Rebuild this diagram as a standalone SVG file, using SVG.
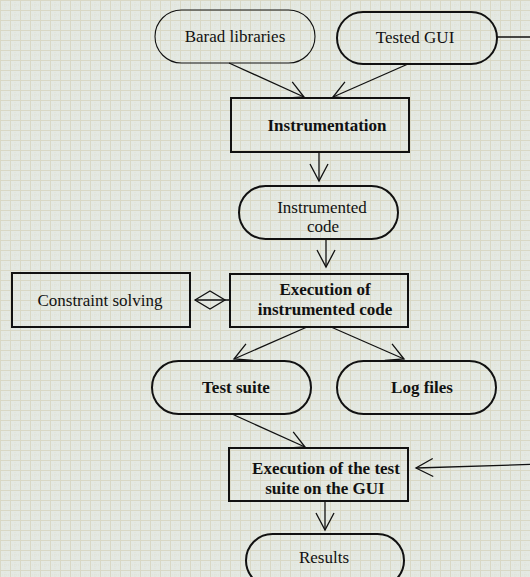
<svg xmlns="http://www.w3.org/2000/svg" width="530" height="577" viewBox="0 0 530 577">
<defs>
<pattern id="grid" width="10" height="10" patternUnits="userSpaceOnUse">
<rect width="10" height="10" fill="#e4e9e3"/>
<path d="M5 0V10M0 5H10" stroke="#e0e2d6" stroke-width="1" stroke-dasharray="1,1"/>
<path d="M0.5 0V10M0 0.5H10" stroke="#d9d8c5" stroke-width="1"/>
</pattern>
<marker id="arr" markerUnits="userSpaceOnUse" markerWidth="40" markerHeight="40" viewBox="-20 -20 40 40" refX="0" refY="0" orient="auto">
<path d="M-17,-9 L0,0 L-17,9" fill="none" stroke="#111" stroke-width="1.3"/>
</marker>
<style>
.thin{fill:none;stroke:#111;stroke-width:1.1}
.thick{fill:none;stroke:#111;stroke-width:2}
.t{font-family:"Liberation Serif","Times New Roman",serif;font-size:17px;fill:#111;text-anchor:middle}
.b{font-weight:bold}
.c{fill:none;stroke:#111;stroke-width:1.3}
</style>
</defs>
<rect width="530" height="577" fill="url(#grid)"/>

<g id="barad">
<rect class="thin" x="155" y="10" width="160" height="53" rx="26.5"/>
<text class="t" x="235" y="42">Barad libraries</text>
</g>
<g id="tested-gui">
<rect class="thick" x="337" y="12" width="160" height="52" rx="26"/>
<text class="t" x="415" y="43">Tested GUI</text>
</g>
<g id="instrumentation">
<rect class="thick" x="231" y="98" width="178" height="54"/>
<text class="t b" x="327" y="131">Instrumentation</text>
</g>
<g id="instrumented-code">
<rect class="thick" x="239" y="186" width="159" height="53" rx="26.5"/>
<text class="t" x="322" y="213">Instrumented</text>
<text class="t" x="323" y="232">code</text>
</g>
<g id="constraint">
<rect class="thick" x="12" y="273" width="178" height="54"/>
<text class="t" x="100" y="306">Constraint solving</text>
</g>
<g id="execution">
<rect class="thick" x="230" y="274" width="178" height="53"/>
<text class="t b" x="325" y="295">Execution of</text>
<text class="t b" x="325" y="315">instrumented code</text>
</g>
<g id="test-suite">
<rect class="thick" x="152" y="361" width="159" height="53" rx="26.5"/>
<text class="t b" x="236" y="393">Test suite</text>
</g>
<g id="log-files">
<rect class="thick" x="337" y="361" width="159" height="53" rx="26.5"/>
<text class="t b" x="422" y="393">Log files</text>
</g>
<g id="execution-gui">
<rect class="thick" x="229" y="448" width="179" height="53"/>
<text class="t b" x="326" y="474">Execution of the test</text>
<text class="t b" x="325" y="494">suite on the GUI</text>
</g>
<g id="results">
<rect class="thick" x="246" y="534" width="158" height="53" rx="26.5"/>
<text class="t" x="324" y="563">Results</text>
</g>

<g id="connectors">
<path class="c" d="M229 63L304 97" marker-end="url(#arr)"/>
<path class="c" d="M408 64L333 97" marker-end="url(#arr)"/>
<path class="c" d="M319 152L319 181" marker-end="url(#arr)"/>
<path class="c" d="M326 239L326 267" marker-end="url(#arr)"/>
<path class="c" d="M307 327L234 359" marker-end="url(#arr)"/>
<path class="c" d="M331 327L404 359" marker-end="url(#arr)"/>
<path class="c" d="M232 414L305 447" marker-end="url(#arr)"/>
<path class="c" d="M325 501L325 530" marker-end="url(#arr)"/>
<path class="c" d="M497 37L545 37L545 464L416 468" stroke-width="1.6" marker-end="url(#arr)"/>
<polygon class="c" points="195,300 210,291 225,300 210,309" stroke-width="1.6"/>
<path class="c" d="M195 300L230 300" stroke-width="1.6"/>
</g>
</svg>
